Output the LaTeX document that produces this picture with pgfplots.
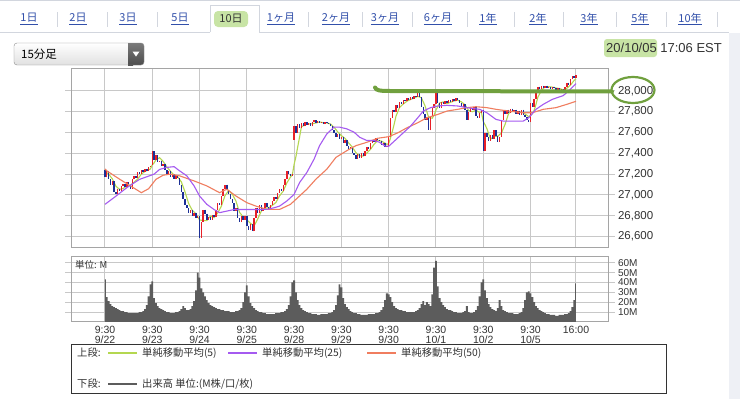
\documentclass[border=0pt]{standalone}
\usepackage{pgfplots}
\pgfplotsset{compat=1.18}
\usepackage{pgfplotstable}
\usepackage{fontspec}
\setmainfont{Liberation Sans}
\newfontfamily\cjk{Noto Sans CJK JP}
\definecolor{cred}{RGB}{232,32,40}
\definecolor{cblue}{RGB}{28,48,150}
\definecolor{maA}{RGB}{180,215,80}
\definecolor{maB}{RGB}{165,90,240}
\definecolor{maC}{RGB}{240,125,95}
\definecolor{volgray}{RGB}{92,92,92}
\definecolor{gridgray}{RGB}{200,200,200}
\definecolor{framegray}{RGB}{165,165,165}
\definecolor{txt}{RGB}{51,51,51}
\definecolor{linkblue}{RGB}{50,80,170}
\definecolor{hlgreen}{RGB}{200,228,165}
\definecolor{anngreen}{RGB}{112,160,62}
\definecolor{tabline}{RGB}{210,214,222}
\definecolor{band}{RGB}{238,240,245}

\pgfplotstableread{
i o c
0 27240 27170
1 27170 27230
2 27230 27150
3 27150 27100
4 27100 27130
5 27130 27030
6 27030 27010
7 27010 27060
8 27060 27040
9 27040 27090
10 27090 27110
11 27110 27080
12 27080 27120
13 27120 27100
14 27100 27060
15 27060 27150
16 27150 27180
17 27180 27160
18 27160 27220
19 27220 27200
20 27200 27240
21 27240 27220
22 27220 27250
23 27250 27230
24 27230 27270
25 27270 27280
26 27290 27420
27 27420 27340
28 27340 27380
29 27380 27320
30 27320 27330
31 27330 27280
32 27280 27300
33 27300 27240
34 27240 27200
35 27200 27230
36 27230 27170
37 27170 27200
38 27200 27150
39 27150 27190
40 27190 27160
41 27160 27100
42 27100 27030
43 27030 26960
44 26960 26900
45 26900 26870
46 26870 26830
47 26830 26860
48 26860 26800
49 26800 26830
50 26830 26780
51 26780 26800
52 26800 26590
53 26590 26740
54 26740 26860
55 26860 26820
56 26820 26760
57 26760 26790
58 26790 26760
59 26760 26810
60 26810 26790
61 26790 26860
62 26860 26920
63 26920 26900
64 26900 26990
65 26990 27060
66 27060 27100
67 27100 27050
68 27050 27010
69 27010 26960
70 26960 26920
71 26920 26850
72 26850 26870
73 26870 26780
74 26780 26740
75 26740 26800
76 26800 26760
77 26760 26800
78 26800 26700
79 26700 26660
80 26660 26720
81 26720 26650
82 26650 26780
83 26780 26870
84 26870 26830
85 26830 26900
86 26900 26850
87 26850 26870
88 26870 26920
89 26920 26880
90 26880 26860
91 26860 26900
92 26900 26940
93 26940 26980
94 26980 26960
95 26960 27020
96 27020 27060
97 27060 27040
98 27040 27100
99 27100 27150
100 27150 27230
101 27230 27200
102 27200 27180
103 27180 27200
104 27530 27660
105 27660 27600
106 27600 27680
107 27680 27640
108 27640 27690
109 27690 27660
110 27660 27700
111 27700 27670
112 27670 27690
113 27690 27660
114 27660 27700
115 27700 27720
116 27720 27690
117 27690 27710
118 27710 27690
119 27690 27700
120 27700 27680
121 27680 27700
122 27700 27690
123 27690 27680
124 27680 27660
125 27660 27620
126 27620 27600
127 27600 27560
128 27560 27590
129 27590 27540
130 27540 27560
131 27560 27500
132 27500 27530
133 27530 27470
134 27470 27440
135 27440 27460
136 27460 27400
137 27400 27380
138 27380 27350
139 27350 27390
140 27390 27360
141 27360 27400
142 27400 27370
143 27370 27420
144 27420 27460
145 27460 27440
146 27440 27500
147 27500 27530
148 27530 27510
149 27510 27550
150 27550 27530
151 27530 27520
152 27520 27480
153 27480 27500
154 27500 27460
155 27460 27470
156 27470 27560
157 27560 27740
158 27740 27820
159 27820 27800
160 27800 27860
161 27860 27840
162 27840 27890
163 27890 27870
164 27870 27910
165 27910 27900
166 27900 27930
167 27930 27910
168 27910 27940
169 27940 27920
170 27920 27950
171 27950 27940
172 27940 27990
173 27990 27940
174 27940 27850
175 27850 27780
176 27780 27720
177 27720 27750
178 27750 27620
179 27620 27760
180 27760 27840
181 27840 27870
182 27870 27990
183 27990 27880
184 27880 27840
185 27840 27890
186 27890 27870
187 27870 27900
188 27900 27880
189 27880 27910
190 27910 27890
191 27890 27920
192 27920 27900
193 27900 27930
194 27930 27910
195 27910 27880
196 27880 27850
197 27850 27870
198 27870 27820
199 27820 27720
200 27720 27800
201 27800 27840
202 27840 27820
203 27820 27850
204 27850 27760
205 27760 27740
206 27740 27790
207 27790 27820
208 27820 27420
209 27420 27600
210 27600 27560
211 27560 27520
212 27520 27580
213 27580 27540
214 27540 27620
215 27620 27570
216 27570 27510
217 27510 27560
218 27560 27720
219 27720 27820
220 27820 27780
221 27780 27820
222 27820 27790
223 27790 27830
224 27830 27800
225 27800 27820
226 27820 27780
227 27780 27810
228 27810 27770
229 27770 27820
230 27820 27770
231 27770 27750
232 27750 27720
233 27720 27700
234 27700 27880
235 27880 27850
236 27850 27920
237 27920 28000
238 28000 28040
239 28040 28020
240 28020 28050
241 28050 28030
242 28030 28050
243 28050 28030
244 28030 28040
245 28040 28020
246 28020 28040
247 28040 28030
248 28030 28010
249 28010 28030
250 28030 28000
251 28000 28020
252 28020 27990
253 27990 28040
254 28040 28080
255 28080 28060
256 28060 28110
257 28110 28140
258 28140 28120
259 28120 28150
}\candles

\begin{document}
\begin{tikzpicture}[x=1pt,y=1pt]
\path[use as bounding box] (0,0) rectangle (740,-399);
\fill[white] (0,0) rectangle (740,-399);
\fill[band] (729,-33) rectangle (740,-399);
\draw[tabline] (0,-0.5) -- (740,-0.5);
\draw[tabline, line width=1pt] (0,-32) -- (210,-32) (259,-32) -- (729,-32);
\draw[tabline, line width=1pt] (210,-32) -- (210,-5) -- (259,-5) -- (259,-32);
\fill[hlgreen, rounded corners=4pt] (214,-11) rectangle (248,-27);
\foreach \x in {57,107,157,308,362,412,467,514,563,616,666,717}
  \draw[tabline, line width=1pt] (\x,-12) -- (\x,-27);
\begin{scope}[every node/.style={font=\cjk\fontsize{11}{13}\selectfont, text=linkblue, inner sep=0pt}]
\node at (29,-19) {\underline{1日}};
\node at (78,-19) {\underline{2日}};
\node at (128,-19) {\underline{3日}};
\node at (180,-19) {\underline{5日}};
\node[text=txt] at (231,-19) {10日};
\node at (281,-19) {\underline{1ヶ月}};
\node at (336,-19) {\underline{2ヶ月}};
\node at (385,-19) {\underline{3ヶ月}};
\node at (438,-19) {\underline{6ヶ月}};
\node at (488,-19) {\underline{1年}};
\node at (538,-19) {\underline{2年}};
\node at (589,-19) {\underline{3年}};
\node at (640,-19) {\underline{5年}};
\node at (690,-19) {\underline{10年}};
\end{scope}
% dropdown
\shade[top color=white, bottom color=black!12, rounded corners=3pt] (14,-43) rectangle (144,-65);
\shade[top color=black!52, bottom color=black!70, rounded corners=3pt] (128,-43) rectangle (144,-65);
\shade[top color=black!52, bottom color=black!70] (128,-43) rectangle (133,-65);
\draw[black!45, rounded corners=3pt] (14,-43) rectangle (144,-65);
\fill[white] (132.5,-51.5) -- (139.5,-51.5) -- (136,-56.5) -- cycle;
\node[anchor=west, inner sep=0pt, font=\cjk\fontsize{11.5}{13}\selectfont, text=black] at (21,-54.5) {15分足};
% date
\fill[hlgreen, rounded corners=3pt] (604,-39) rectangle (657,-57);
\node[anchor=west, inner sep=0pt, font=\fontsize{13}{15}\selectfont, text=txt] at (606,-48) {20/10/05 17:06 EST};

% price chart
\begin{axis}[
  at={(71.7pt,-247pt)}, anchor=south west,
  scale only axis, width=536.3pt, height=179pt,
  xmin=-18.3, xmax=276.6, ymin=26500, ymax=28220,
  axis line style={framegray, line width=1pt},
  xtick={0,26,52,78,104,130,156,182,208,234,259},
  xticklabels={},
  ytick={26600,26800,27000,27200,27400,27600,27800,28000},
  scaled y ticks=false,
  yticklabel pos=right,
  xmajorgrids, ymajorgrids,
  grid style={gridgray, line width=1pt},
  x tick style={draw=none},
  y tick style={gridgray, line width=1pt},
  tick align=outside, major tick length=6.5pt,
  yticklabel style={font=\fontsize{11.5}{13}\selectfont, text=txt},
  /pgf/number format/1000 sep={,},
  /pgf/number format/assume math mode=true,
  colormap={updown}{color=(cblue) color=(cred)},
  point meta min=0, point meta max=1,
]
\addplot[maA, line width=1.1pt] coordinates {(0,27230) (2,27200) (4,27156) (6,27084) (8,27054) (10,27062) (12,27088) (14,27094) (16,27122) (18,27154) (20,27200) (22,27226) (24,27242) (25,27250) (26,27290) (27,27308) (28,27338) (30,27358) (32,27322) (34,27270) (36,27228) (38,27190) (40,27174) (42,27126) (44,27030) (46,26918) (48,26852) (50,26820) (52,26760) (54,26754) (56,26754) (58,26798) (60,26782) (62,26828) (64,26892) (66,26994) (68,27042) (70,27008) (72,26942) (74,26832) (76,26790) (78,26760) (80,26728) (82,26702) (84,26770) (86,26846) (88,26874) (90,26876) (92,26900) (94,26928) (96,26992) (98,27036) (100,27116) (102,27172) (103,27192) (104,27294) (105,27368) (106,27464) (107,27556) (108,27654) (110,27674) (112,27682) (114,27684) (116,27692) (118,27702) (120,27694) (122,27692) (124,27682) (126,27650) (128,27606) (130,27570) (132,27544) (134,27500) (136,27460) (138,27406) (140,27376) (142,27374) (144,27402) (146,27438) (148,27488) (150,27524) (152,27518) (154,27498) (155,27486) (156,27494) (157,27546) (158,27610) (159,27678) (160,27756) (162,27842) (164,27874) (166,27900) (168,27918) (170,27930) (172,27948) (174,27934) (176,27856) (178,27744) (180,27738) (181,27768) (182,27816) (184,27884) (186,27894) (188,27876) (190,27890) (192,27904) (194,27910) (196,27894) (198,27866) (200,27812) (202,27800) (204,27814) (206,27792) (207,27792) (208,27706) (209,27674) (210,27638) (212,27536) (214,27564) (216,27564) (218,27596) (220,27678) (222,27786) (224,27804) (226,27804) (228,27796) (230,27790) (232,27766) (233,27752) (234,27764) (235,27780) (236,27814) (237,27870) (238,27938) (240,28006) (242,28038) (244,28040) (246,28036) (248,28028) (250,28022) (252,28010) (254,28026) (256,28056) (258,28102) (259,28116)};
\addplot[quiver={u=0, v=\thisrow{c}-\thisrow{o}, colored=mapped color},
  point meta={\thisrow{c}>\thisrow{o}}, line width=1.4pt]
  table[x=i, y=o] {\candles};
\addplot[maC, line width=1.1pt] coordinates {(0,27250) (1,27232) (8,27152) (14,27087) (20,27022) (24,27060) (28,27150) (32,27190) (36,27200) (41,27184) (49,27135) (56,27087) (63,27022) (67,27055) (72,26990) (78,26926) (83,26893) (89,26861) (96,26861) (102,26910) (105,26958) (111,27055) (116,27152) (122,27248) (127,27361) (133,27426) (138,27474) (144,27506) (150,27545) (156,27560) (161,27597) (166,27645) (172,27694) (177,27742) (183,27774) (188,27806) (194,27823) (199,27839) (204,27848) (210,27839) (215,27823) (222,27806) (230,27790) (235,27790) (241,27823) (248,27839) (254,27871) (259,27900)};
\addplot[maB, line width=1.1pt] coordinates {(0,26910) (5,26975) (12,27070) (19,27150) (27,27200) (30,27245) (34,27265) (38,27272) (41,27232) (45,27184) (49,27087) (52,26990) (56,26910) (60,26860) (63,26830) (67,26845) (71,26860) (78,26860) (85,26860) (89,26862) (93,26877) (96,26893) (100,26942) (104,27006) (107,27119) (111,27216) (115,27345) (118,27474) (122,27587) (126,27652) (129,27652) (133,27635) (137,27603) (140,27555) (144,27523) (148,27523) (151,27506) (154,27470) (156,27468) (161,27548) (164,27597) (168,27661) (172,27742) (175,27806) (179,27839) (183,27855) (188,27861) (194,27855) (199,27839) (203,27829) (206,27823) (210,27790) (215,27726) (219,27710) (224,27710) (230,27710) (233,27742) (237,27823) (241,27871) (246,27919) (252,27955) (255,28000) (259,28070)};
\end{axis}

% volume chart
\begin{axis}[
  at={(71.7pt,-321.9pt)}, anchor=south west,
  scale only axis, width=536.3pt, height=65.2pt,
  xmin=-18.3, xmax=276.6, ymin=0, ymax=66.1,
  axis line style={framegray, line width=1pt},
  xtick={0,26,52,78,104,130,156,182,208,234,259},
  xticklabels={{9:30\\9/22},{9:30\\9/23},{9:30\\9/24},{9:30\\9/25},{9:30\\9/28},{9:30\\9/29},{9:30\\9/30},{9:30\\10/1},{9:30\\10/2},{9:30\\10/5},{16:00}},
  xticklabel style={align=center, font=\fontsize{10.5}{10.3}\selectfont, text=txt, inner sep=0pt, yshift=2.5pt},
  ytick={10,20,30,40,50,60}, yticklabels={10M,20M,30M,40M,50M,60M},
  yticklabel pos=right,
  yticklabel style={font=\fontsize{10}{11}\selectfont, text=txt},
  xmajorgrids, ymajorgrids,
  grid style={gridgray, line width=1pt},
  x tick style={draw=none},
  y tick style={gridgray, line width=1pt},
  tick align=outside, major tick length=6.5pt,
]
\addplot[fill=volgray, draw=none, const plot mark mid] coordinates {
(0,43)(1,25)(2,21)(3,18)(4,16)(5,15)(6,14)(7,13)(8,12)(9,11)(10,11)(11,10)(12,10)(13,9)(14,9)(15,9)(16,9)(17,9)(18,9)(19,10)(20,10)(21,11)(22,13)(23,17)(24,26)(25,38)
(26,41)(27,24)(28,19)(29,16)(30,14)(31,13)(32,12)(33,11)(34,10)(35,10)(36,9)(37,9)(38,9)(39,10)(40,10)(41,11)(42,13)(43,16)(44,14)(45,12)(46,12)(47,13)(48,16)(49,21)(50,32)(51,50)
(52,45)(53,34)(54,30)(55,26)(56,22)(57,19)(58,17)(59,16)(60,15)(61,14)(62,13)(63,13)(64,12)(65,12)(66,11)(67,11)(68,11)(69,10)(70,10)(71,10)(72,11)(73,11)(74,12)(75,14)(76,20)(77,30)
(78,37)(79,26)(80,19)(81,16)(82,14)(83,12)(84,11)(85,10)(86,10)(87,9)(88,9)(89,8)(90,8)(91,8)(92,8)(93,8)(94,9)(95,9)(96,9)(97,10)(98,10)(99,11)(100,13)(101,17)(102,26)(103,40)
(104,42)(105,30)(106,22)(107,17)(108,14)(109,12)(110,11)(111,10)(112,9)(113,9)(114,8)(115,8)(116,8)(117,7)(118,7)(119,8)(120,8)(121,8)(122,8)(123,9)(124,9)(125,10)(126,12)(127,17)(128,27)(129,38)
(130,35)(131,24)(132,18)(133,15)(134,13)(135,11)(136,10)(137,9)(138,9)(139,8)(140,8)(141,7)(142,7)(143,7)(144,7)(145,8)(146,8)(147,8)(148,8)(149,9)(150,9)(151,10)(152,12)(153,15)(154,22)(155,29)
(156,28)(157,25)(158,20)(159,16)(160,14)(161,13)(162,12)(163,12)(164,11)(165,11)(166,10)(167,10)(168,10)(169,10)(170,10)(171,11)(172,12)(173,14)(174,18)(175,21)(176,17)(177,20)(178,18)(179,16)(180,28)(181,55)
(182,62)(183,36)(184,24)(185,20)(186,17)(187,15)(188,13)(189,12)(190,12)(191,11)(192,10)(193,10)(194,9)(195,9)(196,9)(197,10)(198,11)(199,16)(200,10)(201,9)(202,9)(203,10)(204,12)(205,16)(206,26)(207,40)
(208,43)(209,32)(210,24)(211,18)(212,15)(213,13)(214,12)(215,11)(216,14)(217,22)(218,16)(219,12)(220,11)(221,10)(222,9)(223,9)(224,9)(225,8)(226,8)(227,8)(228,9)(229,10)(230,14)(231,22)(232,30)(233,31)
(234,29)(235,25)(236,20)(237,16)(238,14)(239,12)(240,11)(241,10)(242,9)(243,8)(244,8)(245,7)(246,7)(247,7)(248,6)(249,6)(250,7)(251,7)(252,7)(253,8)(254,8)(255,9)(256,11)(257,15)(258,22)(259,39)
} \closedcycle;
\end{axis}
\node[anchor=west, inner sep=0pt, font=\cjk\fontsize{9.5}{11}\selectfont, text=txt] at (75,-264.5) {単位: M};

% legend
\draw[black!80, line width=1pt] (71,-344.5) rectangle (666,-393);
\begin{scope}[every node/.style={anchor=west, inner sep=0pt, font=\cjk\fontsize{10.3}{12}\selectfont, text=txt}]
\node at (77,-353) {上段:};
\draw[maA, line width=1.6pt] (108,-353) -- (137,-353);
\node at (142,-353) {単純移動平均(5)};
\draw[maB, line width=1.6pt] (228,-353) -- (257,-353);
\node at (262,-353) {単純移動平均(25)};
\draw[maC, line width=1.6pt] (367,-353) -- (396,-353);
\node at (401,-353) {単純移動平均(50)};
\node at (77,-384) {下段:};
\draw[volgray, line width=2.6pt] (108,-384) -- (137,-384);
\node at (142,-384) {出来高 単位:(M株/口/枚)};
\end{scope}

% hand-drawn annotation
\draw[anngreen, line width=4pt, line cap=round] (375,-87.5) .. controls (376,-90.5) and (380,-91) .. (390,-91) -- (612,-91.5);
\draw[anngreen, line width=2.2pt] (633,-90) ellipse (21.5 and 13);
\end{tikzpicture}
\end{document}
